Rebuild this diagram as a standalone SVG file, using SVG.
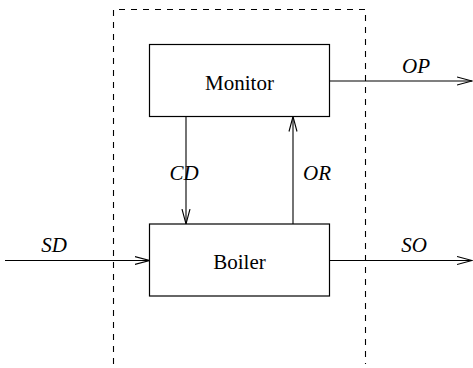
<svg xmlns="http://www.w3.org/2000/svg" width="473" height="368" viewBox="0 0 473 368">
<style>
.box{fill:#fff;stroke:#000;stroke-width:1.2}
.ln{fill:none;stroke:#000;stroke-width:1.1}
.dash{fill:none;stroke:#000;stroke-width:1.1;stroke-dasharray:6,6}
.t{font-family:"Liberation Serif",serif;font-size:21px;text-anchor:middle}
.it{font-family:"Liberation Serif",serif;font-size:21px;font-style:italic;text-anchor:middle}
</style>
<defs>
<marker id="arr" markerWidth="16" markerHeight="10" refX="15" refY="5" orient="auto" markerUnits="userSpaceOnUse">
<path d="M0,1 L15,5 L0,9" fill="none" stroke="#000" stroke-width="1.1"/>
</marker>
</defs>
<g id="boundary">
<path class="dash" d="M113.5,364 V9.5 H365.5 V364"/>
</g>
<g id="connectors">
<line class="ln" x1="5" y1="260.5" x2="149.5" y2="260.5" marker-end="url(#arr)"/>
<line class="ln" x1="329.5" y1="81" x2="472" y2="81" marker-end="url(#arr)"/>
<line class="ln" x1="329.5" y1="260.5" x2="472" y2="260.5" marker-end="url(#arr)"/>
<line class="ln" x1="186" y1="116.5" x2="186" y2="224" marker-end="url(#arr)"/>
<line class="ln" x1="293" y1="224" x2="293" y2="116.5" marker-end="url(#arr)"/>
<text class="it" x="54" y="252">SD</text>
<text class="it" x="416" y="73">OP</text>
<text class="it" x="414" y="252">SO</text>
<text class="it" x="184" y="180">CD</text>
<text class="it" x="317" y="180">OR</text>
</g>
<g id="monitor">
<rect class="box" x="149.5" y="44.5" width="180" height="72"/>
<text class="t" x="239.5" y="90">Monitor</text>
</g>
<g id="boiler">
<rect class="box" x="149.5" y="224" width="180" height="72"/>
<text class="t" x="239.5" y="269">Boiler</text>
</g>
</svg>
